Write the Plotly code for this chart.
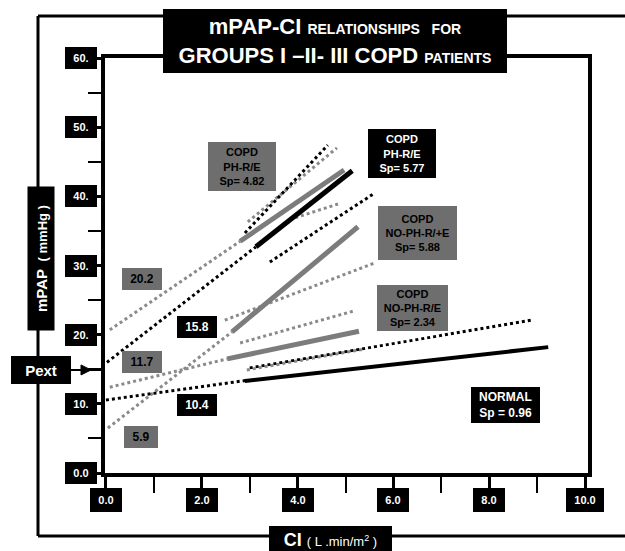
import plotly.graph_objects as go

# ---------------- data ----------------
x_ticks = [0, 2, 4, 6, 8, 10]
x_tick_labels = ["0.0", "2.0", "4.0", "6.0", "8.0", "10.0"]
x_minor = [1, 3, 5, 7, 9]
y_ticks = [0, 10, 20, 30, 40, 50, 60]
y_tick_labels = ["0.0", "10.", "20.", "30.", "40.", "50.", "60."]
y_minor = [5, 15, 25, 35, 45, 55]

# COPD PH-R/E (grey, Sp=4.82)
phre_g_ext_ci = [0.08, 2.80]
phre_g_ext_pap = [20.7, 33.5]
phre_g_ci = [2.80, 4.97]
phre_g_pap = [33.5, 43.8]
phre_g_up_ci = [2.96, 4.82]
phre_g_up_pap = [36.3, 47.0]

# COPD PH-R/E (black, Sp=5.77)
phre_b_ext_ci = [0.02, 3.13]
phre_b_ext_pap = [16.0, 32.7]
phre_b_ci = [3.13, 5.14]
phre_b_pap = [32.7, 43.7]
phre_b_up_ci = [2.90, 4.63]
phre_b_up_pap = [34.7, 47.4]
phre_b_lo_ci = [3.42, 5.57]
phre_b_lo_pap = [30.5, 40.3]
phre_g_mid_ci = [3.95, 4.89]
phre_g_mid_pap = [36.9, 39.0]

# COPD NO-PH-R/+E (grey, Sp=5.88)
nophre_p_ext_ci = [0.04, 2.63]
nophre_p_ext_pap = [6.5, 20.4]
nophre_p_ci = [2.63, 5.26]
nophre_p_pap = [20.4, 35.6]
nophre_p_up_ci = [2.48, 5.62]
nophre_p_up_pap = [22.1, 30.4]
nophre_p_lo_ci = [2.80, 5.16]
nophre_p_lo_pap = [18.8, 23.4]

# COPD NO-PH-R/E (grey, Sp=2.34)
nophre_ext_ci = [0.08, 2.53]
nophre_ext_pap = [12.4, 16.5]
nophre_ci = [2.53, 5.28]
nophre_pap = [16.5, 20.5]
nophre_lo_ci = [2.94, 5.37]
nophre_lo_pap = [14.9, 17.9]

# NORMAL (black, Sp=0.96)
normal_ext_ci = [0.0, 2.94]
normal_ext_pap = [10.55, 13.4]
normal_ci = [2.90, 9.23]
normal_pap = [13.3, 18.2]
normal_up_ci = [3.0, 8.89]
normal_up_pap = [15.2, 22.1]

intercept_labels = ["20.2", "15.8", "11.7", "10.4", "5.9"]
pext_value = 14.9

# ---------------- styling ----------------
FONT = "Liberation Sans, Arial, sans-serif"
BLACK = "#000000"
GREY_LINE = "#7c7c7c"
GREY_DOT = "#8a8a8a"
GREY_BOX = "#6e6e6e"
DOT = "3px,3px"

L, T, W, H = 105, 58, 483, 415   # plot area in pixels
FIG_W, FIG_H = 625, 551


def px_x(px):
    return (px - L) / W


def px_y(py):
    return 1 - (py - T) / H


fig = go.Figure()


def add_line(xs, ys, color, width, dash=None):
    fig.add_trace(go.Scatter(
        x=xs, y=ys, mode="lines", hoverinfo="skip", showlegend=False,
        line=dict(color=color, width=width, dash=dash if dash else "solid")))


# grey dotted
for xs, ys in [(phre_g_ext_ci, phre_g_ext_pap), (phre_g_up_ci, phre_g_up_pap),
               (phre_g_mid_ci, phre_g_mid_pap),
               (nophre_p_ext_ci, nophre_p_ext_pap), (nophre_p_up_ci, nophre_p_up_pap),
               (nophre_p_lo_ci, nophre_p_lo_pap),
               (nophre_ext_ci, nophre_ext_pap), (nophre_lo_ci, nophre_lo_pap)]:
    add_line(xs, ys, GREY_DOT, 3, DOT)
# black dotted
for xs, ys in [(phre_b_ext_ci, phre_b_ext_pap), (phre_b_up_ci, phre_b_up_pap),
               (phre_b_lo_ci, phre_b_lo_pap),
               (normal_ext_ci, normal_ext_pap), (normal_up_ci, normal_up_pap)]:
    add_line(xs, ys, BLACK, 3, DOT)
# solid regressions
add_line(phre_g_ci, phre_g_pap, GREY_LINE, 5)
add_line(nophre_p_ci, nophre_p_pap, GREY_LINE, 5)
add_line(nophre_ci, nophre_pap, GREY_LINE, 5)
add_line(phre_b_ci, phre_b_pap, BLACK, 5)
add_line(normal_ci, normal_pap, BLACK, 4)

annotations = []


def box(text, x, y, w, h, bg, fg, size, xref="x", yref="y", **kw):
    d = dict(text=text, x=x, y=y, xref=xref, yref=yref, showarrow=False,
             bgcolor=bg, font=dict(color=fg, size=size, family=FONT),
             width=w - 4, height=h - 4, borderpad=2, borderwidth=0,
             align="center", valign="middle", xanchor="center", yanchor="middle")
    d.update(kw)
    return d


# tick label boxes
for v, t in zip(y_ticks, y_tick_labels):
    annotations.append(box("<b>%s</b>" % t, 0, v, 32, 22, BLACK, "white", 11,
                           xref="paper", xanchor="right", xshift=-8))
for v, t in zip(x_ticks, x_tick_labels):
    annotations.append(box("<b>%s</b>" % t, v, 0, 32 if len(t) < 4 else 38, 24, BLACK,
                           "white", 11, yref="paper", yanchor="top", yshift=-15))

# intercept labels
int_pos = [(0.75, 28.0, GREY_BOX, BLACK), (1.91, 21.1, BLACK, "white"),
           (0.75, 16.0, GREY_BOX, BLACK), (1.91, 9.83, BLACK, "white"),
           (0.73, 5.2, GREY_BOX, BLACK)]
for t, (x, y, bg, fg) in zip(intercept_labels, int_pos):
    annotations.append(box("<b>%s</b>" % t, x, y, 34 if len(t) < 4 else 40, 22, bg, fg, 12))

# group labels
annotations.append(box("<b>COPD<br>PH-R/E<br>Sp= 4.82</b>", 2.84, 44.3, 68, 49, GREY_BOX, BLACK, 11))
annotations.append(box("<b>COPD<br>PH-R/E<br>Sp= 5.77</b>", 6.18, 46.2, 68, 49, BLACK, "white", 11))
annotations.append(box("<b>COPD<br>NO-PH-R/+E<br>Sp= 5.88</b>", 6.50, 34.7, 79, 54, GREY_BOX, BLACK, 11))
annotations.append(box("<b>COPD<br>NO-PH-R/E<br>Sp= 2.34</b>", 6.40, 23.9, 71, 46, GREY_BOX, BLACK, 11))
annotations.append(box("<b>NORMAL<br>Sp = 0.96</b>", 8.34, 9.83, 69, 36, BLACK, "white", 12))

# title
title_txt = ("<b>mPAP-CI <span style='font-size:14px'>RELATIONSHIPS &nbsp; FOR</span><br>"
             "GROUPS I \u2013II- III COPD <span style='font-size:14px'>PATIENTS</span></b>")
annotations.append(box(title_txt, px_x(335), px_y(41), 344, 64, BLACK, "white", 22,
                       xref="paper", yref="paper"))
# y title
annotations.append(box("<b>mPAP <span style='font-size:13px'>&nbsp;( mmHg )</span></b>",
                       px_x(40.5), px_y(259), 144, 27, BLACK, "white", 15,
                       xref="paper", yref="paper", textangle=-90,
                       width=140, height=23))
# x title
annotations.append(box("<b>CI</b> <span style='font-size:13px'>( L .min/m<sup>2</sup> )</span>",
                       px_x(330.5), px_y(540), 123, 28, BLACK, "white", 18,
                       xref="paper", yref="paper"))
# Pext
annotations.append(box("<b>Pext</b>", px_x(41), pext_value, 60, 28, BLACK, "white", 15,
                       xref="paper"))


def pext_y_paper(offset_px):
    return pext_value / 60.0 + offset_px / H


shapes = [
    # outer frame
    dict(type="line", xref="paper", yref="paper", x0=px_x(38), x1=px_x(630),
         y0=px_y(16), y1=px_y(16), line=dict(color=BLACK, width=3)),
    dict(type="line", xref="paper", yref="paper", x0=px_x(38), x1=px_x(38),
         y0=px_y(16), y1=px_y(536), line=dict(color=BLACK, width=3)),
    dict(type="line", xref="paper", yref="paper", x0=px_x(38), x1=px_x(630),
         y0=px_y(536), y1=px_y(536), line=dict(color=BLACK, width=3)),
    # Pext leader and arrowhead
    dict(type="line", xref="paper", yref="y", x0=px_x(70), x1=px_x(104),
         y0=pext_value, y1=pext_value, line=dict(color=BLACK, width=2)),
    dict(type="path", xref="paper", yref="paper",
         path="M %f,%f L %f,%f L %f,%f Z" % (
             px_x(91), pext_y_paper(0), px_x(81), pext_y_paper(5),
             px_x(81), pext_y_paper(-5)),
         fillcolor=BLACK, line=dict(color=BLACK, width=1)),
]

fig.update_layout(
    width=FIG_W, height=FIG_H,
    margin=dict(l=L, r=FIG_W - L - W, t=T, b=FIG_H - T - H, pad=0),
    paper_bgcolor="white", plot_bgcolor="white",
    showlegend=False,
    font=dict(family=FONT),
    xaxis=dict(range=[-0.02, 10.06], showgrid=False, zeroline=False,
               showline=True, linewidth=4, linecolor=BLACK, mirror=True,
               tickvals=x_ticks, ticks="outside", ticklen=15, tickwidth=3,
               tickcolor=BLACK, showticklabels=False,
               minor=dict(tickvals=x_minor, ticks="outside", ticklen=16,
                          tickwidth=2, tickcolor=BLACK)),
    yaxis=dict(range=[0, 60], showgrid=False, zeroline=False,
               showline=True, linewidth=4, linecolor=BLACK, mirror=True,
               tickvals=y_ticks, ticks="outside", ticklen=8, tickwidth=3,
               tickcolor=BLACK, showticklabels=False,
               minor=dict(tickvals=y_minor, ticks="outside", ticklen=13,
                          tickwidth=2, tickcolor=BLACK)),
    annotations=annotations,
    shapes=shapes,
)

fig.write_html("out.html", config={"displayModeBar": False},
               post_script="document.body.style.margin='0';document.body.style.overflow='hidden';")
